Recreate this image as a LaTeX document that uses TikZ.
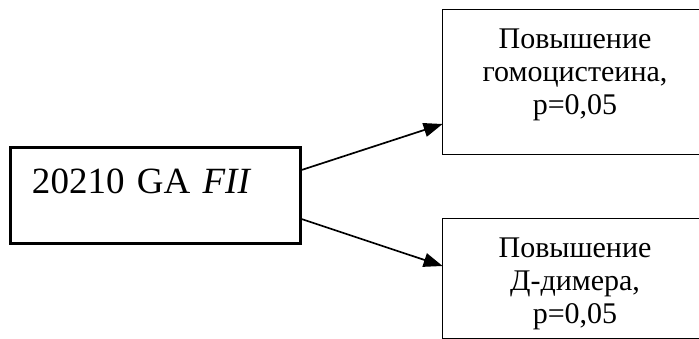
\documentclass[tikz,border=0pt]{standalone}
\usepackage{fontspec}
\setmainfont{Liberation Serif}
\usetikzlibrary{arrows.meta}

\begin{document}
\begin{tikzpicture}[x=0.5pt,y=-0.5pt]

%
% Styles
%
\tikzstyle{genebox} = [rectangle,draw=black,line width=1.5pt,inner xsep=11pt,inner ysep=0pt,
  text width=123pt,align=left,text height=23pt,text depth=25pt,font=\fontsize{18.5pt}{20pt}\selectfont]
\tikzstyle{resultbox} = [rectangle,inner xsep=0pt,inner ysep=0pt,
  text width=132pt,align=center,text height=19pt,font=\fontsize{15pt}{16.5pt}\selectfont]
\tikzstyle{cutside} = [draw=black,line width=0.85pt]
\tikzstyle{link} = [-{Triangle[length=9.5pt,width=7pt]},line width=0.85pt]

\path[use as bounding box,clip] (0,0) rectangle (699,338);

\node[genebox] (fii) at (155,195) {20210 GA \textit{FII}};
\node[resultbox,text depth=53pt] (homo) at (575,82) {Повышение\\гомоцистеина,\\p=0,05};
\node[resultbox,text depth=40.75pt] (dimer) at (575,278.75) {Повышение\\Д-димера,\\p=0,05};

% right sides run off the page
\draw[cutside] (homo.north east) -- (homo.north west) -- (homo.south west) -- (homo.south east);
\draw[cutside] (dimer.north east) -- (dimer.north west) -- (dimer.south west) -- (dimer.south east);

\draw[link] ([yshift=12.5pt]fii.east) -- ([yshift=-21pt]homo.west);
\draw[link] ([yshift=-12pt]fii.east) -- ([yshift=6.375pt]dimer.west);

\end{tikzpicture}
\end{document}
